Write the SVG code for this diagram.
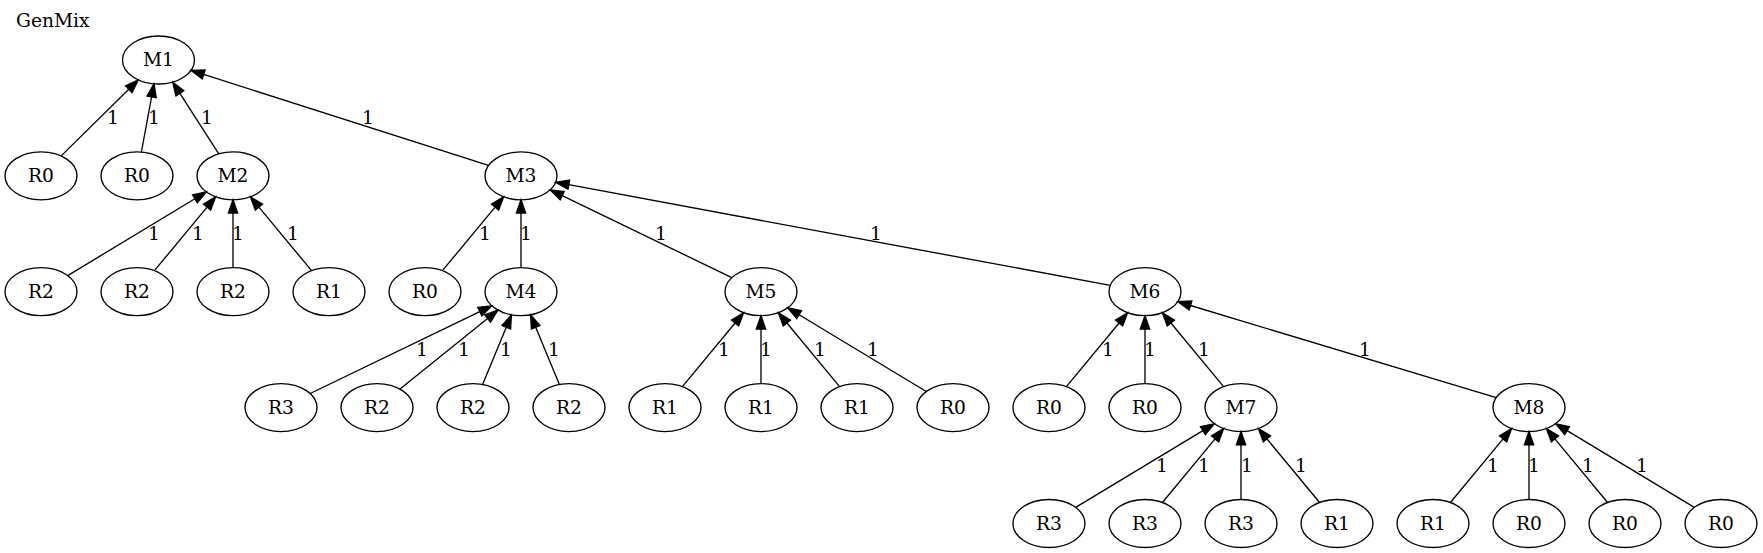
<svg xmlns="http://www.w3.org/2000/svg" width="1763" height="553" viewBox="0 0 1763 553">
<style>
.n ellipse{fill:none;stroke:#000;stroke-width:1.33}
text{font-family:"DejaVu Serif","Liberation Serif",serif;font-size:18.67px;fill:#000}
.n text{text-anchor:middle}
.e path{fill:none;stroke:#000;stroke-width:1.33;marker-end:url(#ah)}
.l text{text-anchor:middle}
</style>
<defs>
<marker id="ah" markerUnits="userSpaceOnUse" markerWidth="16" markerHeight="12" refX="0" refY="6" orient="auto" viewBox="0 0 16 12" overflow="visible">
<path d="M0,1.33 L13.33,6 L0,10.67 Z" fill="#000" stroke="#000" stroke-width="1.33"/>
</marker>
</defs>
<rect width="1763" height="553" fill="#fff"/>
<text x="16" y="26.5">GenMix</text>
<g id="edges" class="e">
<path d="M61.2,155.9 L128.8,89.2"/>
<path d="M141.4,152 L151.6,96.9"/>
<path d="M218.8,153.8 L179.9,93.3"/>
<path d="M488.5,165.4 L203.7,74.4"/>
<path d="M67.7,275.6 L194.9,198.8"/>
<path d="M154.4,270.7 L207.1,207.1"/>
<path d="M233,267.7 L233,213.1"/>
<path d="M311.6,270.7 L258.9,207.1"/>
<path d="M442.4,270.7 L495.1,207.1"/>
<path d="M521,267.7 L521,213.1"/>
<path d="M731.8,277.6 L562.2,195.7"/>
<path d="M1110.3,285.3 L568.8,184.7"/>
<path d="M310.2,393.5 L479.8,311.6"/>
<path d="M400,389.1 L487.6,318.5"/>
<path d="M482.6,384.5 L506.3,327.2"/>
<path d="M559.4,384.5 L535.7,327.2"/>
<path d="M682.4,386.6 L735.1,323"/>
<path d="M761,383.6 L761,329"/>
<path d="M839.6,386.6 L786.9,323"/>
<path d="M926.3,391.5 L799.1,314.7"/>
<path d="M1066.4,386.6 L1119.1,323"/>
<path d="M1145,383.6 L1145,329"/>
<path d="M1223.6,386.6 L1170.9,323"/>
<path d="M1496.2,397.7 L1190.5,305.5"/>
<path d="M1075.7,507.4 L1202.9,430.6"/>
<path d="M1162.4,502.5 L1215.1,438.9"/>
<path d="M1241,499.5 L1241,444.9"/>
<path d="M1319.6,502.5 L1266.9,438.9"/>
<path d="M1450.4,502.5 L1503.1,438.9"/>
<path d="M1529,499.5 L1529,444.9"/>
<path d="M1607.6,502.5 L1554.9,438.9"/>
<path d="M1694.3,507.4 L1567.1,430.6"/>
</g>
<g id="edge-labels" class="l">
<text x="113" y="123.5">1</text>
<text x="154" y="123.5">1</text>
<text x="207" y="123.5">1</text>
<text x="368" y="123.5">1</text>
<text x="154" y="239.5">1</text>
<text x="198" y="239.5">1</text>
<text x="238" y="239.5">1</text>
<text x="293" y="239.5">1</text>
<text x="485" y="239.5">1</text>
<text x="526" y="239.5">1</text>
<text x="661" y="239.5">1</text>
<text x="876" y="239.5">1</text>
<text x="422" y="356">1</text>
<text x="464" y="356">1</text>
<text x="506" y="356">1</text>
<text x="554" y="356">1</text>
<text x="724" y="356">1</text>
<text x="766" y="356">1</text>
<text x="820" y="356">1</text>
<text x="873" y="356">1</text>
<text x="1108" y="356">1</text>
<text x="1150" y="356">1</text>
<text x="1204" y="356">1</text>
<text x="1365" y="356">1</text>
<text x="1162" y="472">1</text>
<text x="1204" y="472">1</text>
<text x="1247" y="472">1</text>
<text x="1301" y="472">1</text>
<text x="1493" y="472">1</text>
<text x="1534" y="472">1</text>
<text x="1588" y="472">1</text>
<text x="1642" y="472">1</text>
</g>
<g id="M1" class="n"><ellipse cx="158.5" cy="60" rx="36" ry="24"/><text x="158.5" y="66">M1</text></g>
<g id="R0_a" class="n"><ellipse cx="41" cy="175.8" rx="36" ry="24"/><text x="41" y="181.8">R0</text></g>
<g id="R0_b" class="n"><ellipse cx="137" cy="175.8" rx="36" ry="24"/><text x="137" y="181.8">R0</text></g>
<g id="M2" class="n"><ellipse cx="233" cy="175.8" rx="36" ry="24"/><text x="233" y="181.8">M2</text></g>
<g id="M3" class="n"><ellipse cx="521" cy="175.8" rx="36" ry="24"/><text x="521" y="181.8">M3</text></g>
<g id="R2_a" class="n"><ellipse cx="41" cy="291.7" rx="36" ry="24"/><text x="41" y="297.7">R2</text></g>
<g id="R2_b" class="n"><ellipse cx="137" cy="291.7" rx="36" ry="24"/><text x="137" y="297.7">R2</text></g>
<g id="R2_c" class="n"><ellipse cx="233" cy="291.7" rx="36" ry="24"/><text x="233" y="297.7">R2</text></g>
<g id="R1_a" class="n"><ellipse cx="329" cy="291.7" rx="36" ry="24"/><text x="329" y="297.7">R1</text></g>
<g id="R0_c" class="n"><ellipse cx="425" cy="291.7" rx="36" ry="24"/><text x="425" y="297.7">R0</text></g>
<g id="M4" class="n"><ellipse cx="521" cy="291.7" rx="36" ry="24"/><text x="521" y="297.7">M4</text></g>
<g id="M5" class="n"><ellipse cx="761" cy="291.7" rx="36" ry="24"/><text x="761" y="297.7">M5</text></g>
<g id="M6" class="n"><ellipse cx="1145" cy="291.7" rx="36" ry="24"/><text x="1145" y="297.7">M6</text></g>
<g id="R3_a" class="n"><ellipse cx="281" cy="407.6" rx="36" ry="24"/><text x="281" y="413.6">R3</text></g>
<g id="R2_d" class="n"><ellipse cx="377" cy="407.6" rx="36" ry="24"/><text x="377" y="413.6">R2</text></g>
<g id="R2_e" class="n"><ellipse cx="473" cy="407.6" rx="36" ry="24"/><text x="473" y="413.6">R2</text></g>
<g id="R2_f" class="n"><ellipse cx="569" cy="407.6" rx="36" ry="24"/><text x="569" y="413.6">R2</text></g>
<g id="R1_b" class="n"><ellipse cx="665" cy="407.6" rx="36" ry="24"/><text x="665" y="413.6">R1</text></g>
<g id="R1_c" class="n"><ellipse cx="761" cy="407.6" rx="36" ry="24"/><text x="761" y="413.6">R1</text></g>
<g id="R1_d" class="n"><ellipse cx="857" cy="407.6" rx="36" ry="24"/><text x="857" y="413.6">R1</text></g>
<g id="R0_d" class="n"><ellipse cx="953" cy="407.6" rx="36" ry="24"/><text x="953" y="413.6">R0</text></g>
<g id="R0_e" class="n"><ellipse cx="1049" cy="407.6" rx="36" ry="24"/><text x="1049" y="413.6">R0</text></g>
<g id="R0_f" class="n"><ellipse cx="1145" cy="407.6" rx="36" ry="24"/><text x="1145" y="413.6">R0</text></g>
<g id="M7" class="n"><ellipse cx="1241" cy="407.6" rx="36" ry="24"/><text x="1241" y="413.6">M7</text></g>
<g id="M8" class="n"><ellipse cx="1529" cy="407.6" rx="36" ry="24"/><text x="1529" y="413.6">M8</text></g>
<g id="R3_b" class="n"><ellipse cx="1049" cy="523.5" rx="36" ry="24"/><text x="1049" y="529.5">R3</text></g>
<g id="R3_c" class="n"><ellipse cx="1145" cy="523.5" rx="36" ry="24"/><text x="1145" y="529.5">R3</text></g>
<g id="R3_d" class="n"><ellipse cx="1241" cy="523.5" rx="36" ry="24"/><text x="1241" y="529.5">R3</text></g>
<g id="R1_e" class="n"><ellipse cx="1337" cy="523.5" rx="36" ry="24"/><text x="1337" y="529.5">R1</text></g>
<g id="R1_f" class="n"><ellipse cx="1433" cy="523.5" rx="36" ry="24"/><text x="1433" y="529.5">R1</text></g>
<g id="R0_g" class="n"><ellipse cx="1529" cy="523.5" rx="36" ry="24"/><text x="1529" y="529.5">R0</text></g>
<g id="R0_h" class="n"><ellipse cx="1625" cy="523.5" rx="36" ry="24"/><text x="1625" y="529.5">R0</text></g>
<g id="R0_i" class="n"><ellipse cx="1721" cy="523.5" rx="36" ry="24"/><text x="1721" y="529.5">R0</text></g>
</svg>
